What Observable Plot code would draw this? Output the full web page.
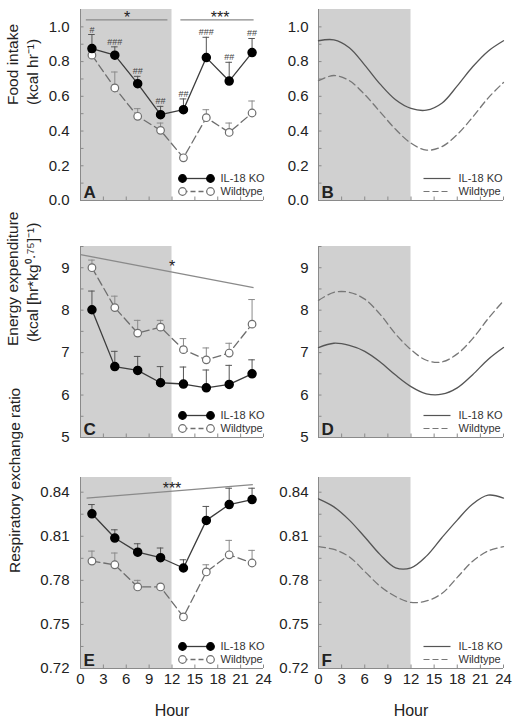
<!DOCTYPE html>
<html><head><meta charset="utf-8">
<script src="https://cdn.jsdelivr.net/npm/d3@7"></script>
<script src="https://cdn.jsdelivr.net/npm/@observablehq/plot@0.6"></script>
<style>
body{margin:0;background:#fff}
#fig{position:relative;width:513px;height:728px;overflow:hidden}
#fig > div{position:absolute}
</style>
</head><body><div id="fig"></div>
<script>
// ---------- data ----------
const hours = [1.5, 4.5, 7.5, 10.5, 13.5, 16.5, 19.5, 22.5];
const xTicks = [0, 3, 6, 9, 12, 15, 18, 21, 24];
const darkPhase = [{start: 0, end: 12}];
const seriesNames = ["IL-18 KO", "Wildtype"];

const foodKO    = [0.875, 0.837, 0.673, 0.494, 0.523, 0.823, 0.688, 0.852];
const foodKOErr = [0.956, 0.885, 0.715, 0.542, 0.585, 0.940, 0.796, 0.933];
const foodWT    = [0.837, 0.648, 0.485, 0.404, 0.246, 0.477, 0.392, 0.504];
const foodWTErr = [0.860, 0.740, 0.529, 0.446, 0.260, 0.523, 0.446, 0.573];
const foodHash  = ["#", "###", "##", "##", "##", "###", "##", "##"];
const foodSig   = [{x1: 0.7, x2: 11.4, y1: 1.04, y2: 1.04, label: "*", at: 6.1},
                   {x1: 13.1, x2: 22.7, y1: 1.04, y2: 1.04, label: "***", at: 18.3}];

const eeKO    = [8.01, 6.67, 6.58, 6.29, 6.26, 6.17, 6.25, 6.50];
const eeKOErr = [8.45, 7.03, 6.91, 6.67, 6.66, 6.59, 6.70, 6.83];
const eeWT    = [9.00, 8.06, 7.46, 7.60, 7.07, 6.83, 6.99, 7.67];
const eeWTErr = [9.18, 8.33, 7.76, 7.76, 7.33, 7.11, 7.22, 8.25];
const eeSig   = [{x1: 0, x2: 22.7, y1: 9.31, y2: 8.53, label: "*", at: 12}];

const rerKO    = [0.8253, 0.8088, 0.7992, 0.7954, 0.7884, 0.8208, 0.8316, 0.8350];
const rerKOErr = [0.8316, 0.8144, 0.8049, 0.8020, 0.7940, 0.8303, 0.8427, 0.8427];
const rerWT    = [0.7931, 0.7906, 0.7755, 0.7755, 0.7551, 0.7857, 0.7974, 0.7918];
const rerWTErr = [0.7999, 0.7986, 0.7800, 0.7773, 0.7567, 0.7906, 0.8072, 0.8004];
const rerSig   = [{x1: 0.8, x2: 22.6, y1: 0.8359, y2: 0.8452, label: "***", at: 12}];

const fitHours = [0, 2, 4, 6, 8, 10, 12, 14, 16, 18, 20, 22, 24];
const foodFitKO = [0.92, 0.925, 0.88, 0.78, 0.67, 0.58, 0.53, 0.52, 0.56, 0.66, 0.77, 0.86, 0.92];
const foodFitWT = [0.69, 0.72, 0.69, 0.61, 0.51, 0.41, 0.33, 0.29, 0.31, 0.38, 0.48, 0.59, 0.68];
const eeFitKO  = [7.12, 7.22, 7.17, 7.03, 6.78, 6.47, 6.20, 6.03, 6.02, 6.17, 6.48, 6.84, 7.12];
const eeFitWT  = [8.23, 8.42, 8.42, 8.26, 7.90, 7.44, 7.07, 6.82, 6.78, 6.97, 7.33, 7.80, 8.22];
const rerFitKO = [0.8355, 0.830, 0.821, 0.8095, 0.7975, 0.7885, 0.7885, 0.7965, 0.809, 0.821, 0.832, 0.838, 0.836];
const rerFitWT = [0.803, 0.801, 0.796, 0.786, 0.776, 0.769, 0.765, 0.766, 0.771, 0.782, 0.793, 0.800, 0.803];

const foodTicks = [0, 0.2, 0.4, 0.6, 0.8, 1.0];
const foodMinor = d3.range(0, 1.05, 0.1);
const eeTicks = [5, 6, 7, 8, 9];
const eeMinor = d3.range(5, 9.6, 0.5);
const rerTicks = [0.72, 0.75, 0.78, 0.81, 0.84];
const rerMinor = d3.range(0.72, 0.8451, 0.015);

// ---------- style ----------
const FONT = '"Liberation Sans", Arial, Helvetica, sans-serif';
const KO_COLOR = "#3c3c3c", WT_COLOR = "#6e6e6e", AXIS = "#8a8a8a", SHADE = "#d0d0d0";

function mk(x, y) { return x.map((v, i) => ({x: v, y: y[i]})); }
function mkErr(x, y, e) { return x.map((v, i) => ({x: v, y: y[i], e: e[i]})); }

function panel(o) {
  const frameW = o.width - o.ml - o.mr, frameH = o.height - o.mt - o.mb;
  const pxH = frameW / 24;                 // px per hour
  const [y0, y1] = o.yDomain;
  const pxY = (y1 - y0) / frameH;          // value per px
  const marks = [];
  marks.push(Plot.rect(darkPhase, {x1: "start", x2: "end", y1: () => y0, y2: () => y1, fill: SHADE}));
  // inward ticks
  marks.push(Plot.ruleY(o.yMinor, {x1: 0, x2: 3.5 / pxH, stroke: AXIS, strokeWidth: 1}));
  marks.push(Plot.ruleX(xTicks, {y1: y0, y2: y0 + 3.5 * pxY, stroke: AXIS, strokeWidth: 1}));
  // axis lines
  marks.push(Plot.ruleX([0], {stroke: AXIS, strokeWidth: 1}));
  marks.push(Plot.ruleY([y0], {stroke: AXIS, strokeWidth: 1}));
  marks.push(Plot.axisY({ticks: o.yTicks, tickSize: 0, tickPadding: o.tickPad, tickFormat: o.fmt, label: null, fontSize: 15}));
  if (o.bottom) {
    marks.push(Plot.axisX({ticks: xTicks, tickSize: 0, tickPadding: 5, tickFormat: d3.format("d"), label: null, fontSize: 15}));
    marks.push(Plot.text(["Hour"], {frameAnchor: "bottom", dy: 42, lineAnchor: "middle", fontSize: 16}));
  }
  // titles
  (o.titles || []).forEach(t => marks.push(Plot.text([t.text], {frameAnchor: "left", rotate: -90, dx: t.dx, dy: t.dy || 0, lineAnchor: "middle", fontSize: 15.5})));
  // letter
  marks.push(Plot.text([o.letter], {frameAnchor: "bottom-left", dx: 3, dy: -3, textAnchor: "start", lineAnchor: "bottom", fontWeight: "bold", fontSize: 17, fill: "#222"}));

  if (o.points) {
    const ko = mkErr(hours, o.points.ko, o.points.koErr), wt = mkErr(hours, o.points.wt, o.points.wtErr);
    const capW = 3.3 / pxH;
    // significance
    if (o.sig) {
      marks.push(Plot.link(o.sig, {x1: "x1", x2: "x2", y1: "y1", y2: "y2", stroke: "#8a8a8a", strokeWidth: 1.2}));
      marks.push(Plot.text(o.sig, {x: "at", y: d => d.y1 + (d.y2 - d.y1) * (d.at - d.x1) / (d.x2 - d.x1), text: "label",
        lineAnchor: "bottom", dy: o.sigDy, fontSize: 16, fill: "#222"}));
    }
    // error bars
    for (const [arr, c] of [[wt, "#8a8a8a"], [ko, "#555"]]) {
      marks.push(Plot.ruleX(arr, {x: "x", y1: "y", y2: "e", stroke: c, strokeWidth: 1}));
      marks.push(Plot.ruleY(arr, {y: "e", x1: d => d.x - capW, x2: d => d.x + capW, stroke: c, strokeWidth: 1}));
    }
    marks.push(Plot.line(wt, {x: "x", y: "y", stroke: WT_COLOR, strokeWidth: 1.3, strokeDasharray: "8,4"}));
    marks.push(Plot.line(ko, {x: "x", y: "y", stroke: KO_COLOR, strokeWidth: 1.3}));
    marks.push(Plot.dot(wt, {x: "x", y: "y", r: 3.8, fill: "white", stroke: WT_COLOR, strokeWidth: 1.2}));
    marks.push(Plot.dot(ko, {x: "x", y: "y", r: 4, fill: "black", stroke: "black"}));
    if (o.hash) {
      marks.push(Plot.text(ko.map((d, i) => ({...d, t: o.hash[i]})), {x: "x", y: "e", text: "t", lineAnchor: "bottom", dy: -2, fontSize: 9, fill: "#444"}));
    }
    // legend (left panels): marker - line - marker
    const xr = 24, lx1 = xr - 81 / pxH, lx2 = xr - 53 / pxH, tx = xr - 43 / pxH;
    const ry = [y0 + 22 * pxY, y0 + 9 * pxY];
    const leg = [
      {name: seriesNames[0], y: ry[0], dash: null, fill: "black", stroke: "black", line: KO_COLOR},
      {name: seriesNames[1], y: ry[1], dash: "5,3", fill: "white", stroke: WT_COLOR, line: WT_COLOR}
    ];
    leg.forEach(l => {
      marks.push(Plot.link([l], {x1: () => lx1, x2: () => lx2, y1: "y", y2: "y", stroke: l.line, strokeWidth: 1.3, strokeDasharray: l.dash}));
      marks.push(Plot.dot([lx1, lx2], {x: d => d, y: () => l.y, r: 3.8, fill: l.fill, stroke: l.stroke, strokeWidth: 1.2}));
      marks.push(Plot.text([l], {x: () => tx, y: "y", text: "name", textAnchor: "start", lineAnchor: "middle", fontSize: 11, fill: "#333"}));
    });
  } else {
    const ko = mk(fitHours, o.fit.ko), wt = mk(fitHours, o.fit.wt);
    marks.push(Plot.line(wt, {x: "x", y: "y", curve: "catmull-rom", stroke: "#777", strokeWidth: 1.3, strokeDasharray: "7,4"}));
    marks.push(Plot.line(ko, {x: "x", y: "y", curve: "catmull-rom", stroke: "#555", strokeWidth: 1.3}));
    const xr = 24, lx1 = xr - 80 / pxH, lx2 = xr - 53 / pxH, tx = xr - 45 / pxH;
    const ry = [y0 + 22 * pxY, y0 + 9 * pxY];
    const leg = [
      {name: seriesNames[0], y: ry[0], dash: null, line: "#555"},
      {name: seriesNames[1], y: ry[1], dash: "6,3", line: "#777"}
    ];
    leg.forEach(l => {
      marks.push(Plot.link([l], {x1: () => lx1, x2: () => lx2, y1: "y", y2: "y", stroke: l.line, strokeWidth: 1.2, strokeDasharray: l.dash}));
      marks.push(Plot.text([l], {x: () => tx, y: "y", text: "name", textAnchor: "start", lineAnchor: "middle", fontSize: 11, fill: "#333"}));
    });
  }

  const xOpts = {domain: [0, 24]};
  if (!o.bottom) xOpts.axis = null;
  const chart = Plot.plot({
    width: o.width, height: o.height,
    marginLeft: o.ml, marginRight: o.mr, marginTop: o.mt, marginBottom: o.mb,
    x: xOpts,
    y: {domain: o.yDomain},
    style: {fontFamily: FONT, fontSize: "15px", color: "#222", background: "transparent", overflow: "visible"},
    marks
  });
  const wrap = document.createElement("div");
  wrap.style.left = o.left + "px";
  wrap.style.top = o.top + "px";
  wrap.appendChild(chart);
  document.getElementById("fig").appendChild(wrap);
}

const L = {left: 0, width: 275, ml: 80, mr: 12, tickPad: 11};
const R = {left: 255, width: 258, ml: 63, mr: 10, tickPad: 10};
const ROW1 = {top: 0, height: 215, mt: 9, mb: 15};
const ROW2 = {top: 230, height: 215, mt: 16, mb: 8};
const ROW3 = {top: 460, height: 268, mt: 17, mb: 60};
const fmt1 = d3.format(".1f"), fmt0 = d3.format("d"), fmt2 = d3.format(".2f");

panel({...L, ...ROW1, yDomain: [0, 1.1], yTicks: foodTicks, yMinor: foodMinor, fmt: fmt1, letter: "A",
  titles: [{text: "Food intake", dx: -67}, {text: "(kcal hr\u207B\u00B9)", dx: -47}],
  points: {ko: foodKO, koErr: foodKOErr, wt: foodWT, wtErr: foodWTErr}, hash: foodHash, sig: foodSig, sigDy: 3});
panel({...R, ...ROW1, yDomain: [0, 1.1], yTicks: foodTicks, yMinor: foodMinor, fmt: fmt1, letter: "B",
  fit: {ko: foodFitKO, wt: foodFitWT}});
panel({...L, ...ROW2, yDomain: [5, 9.5], yTicks: eeTicks, yMinor: eeMinor, fmt: fmt0, letter: "C",
  titles: [{text: "Energy expenditure", dx: -67, dy: 4}, {text: "(kcal [hr*kg\u2070\u00B7\u2077\u2075]\u207B\u00B9)", dx: -47}],
  points: {ko: eeKO, koErr: eeKOErr, wt: eeWT, wtErr: eeWTErr}, sig: eeSig, sigDy: 0});
panel({...R, ...ROW2, yDomain: [5, 9.5], yTicks: eeTicks, yMinor: eeMinor, fmt: fmt0, letter: "D",
  fit: {ko: eeFitKO, wt: eeFitWT}});
panel({...L, ...ROW3, yDomain: [0.72, 0.85], yTicks: rerTicks, yMinor: rerMinor, fmt: fmt2, letter: "E", bottom: true,
  titles: [{text: "Respiratory exchange ratio", dx: -65}],
  points: {ko: rerKO, koErr: rerKOErr, wt: rerWT, wtErr: rerWTErr}, sig: rerSig, sigDy: 3});
panel({...R, ...ROW3, yDomain: [0.72, 0.85], yTicks: rerTicks, yMinor: rerMinor, fmt: fmt2, letter: "F", bottom: true,
  fit: {ko: rerFitKO, wt: rerFitWT}});
</script>
</body></html>
